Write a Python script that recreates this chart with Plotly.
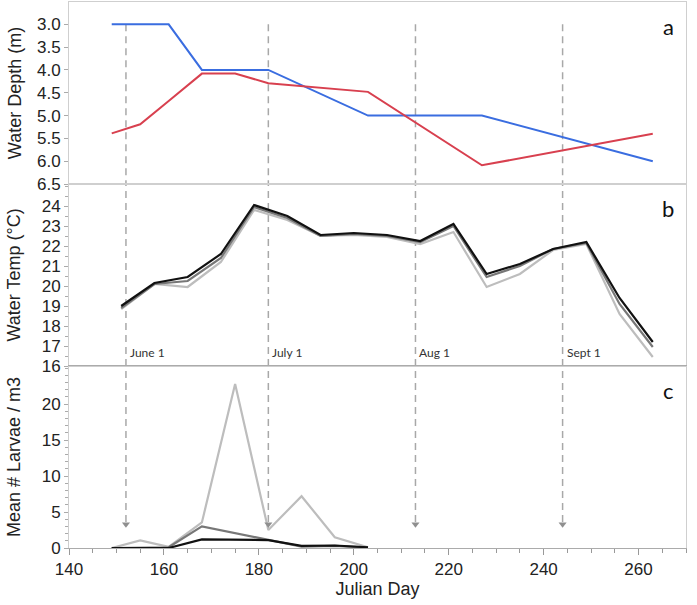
import plotly.graph_objects as go
from plotly.subplots import make_subplots

# ---- data ----
depth_blue_day = [149, 161, 168, 182, 203, 227, 263]
depth_blue = [3.0, 3.0, 4.0, 4.0, 5.0, 5.0, 6.0]
depth_red_day = [149, 155, 161, 168, 175, 182, 203, 227, 263]
depth_red = [5.39, 5.19, 4.68, 4.08, 4.08, 4.29, 4.48, 6.09, 5.40]

temp_day = [151, 158, 165, 172, 179, 186, 193, 200, 207, 214, 221, 228, 235, 242, 249, 256, 263]
temp_black = [19.0, 20.15, 20.45, 21.6, 24.05, 23.5, 22.55, 22.65, 22.55, 22.25, 23.1, 20.6, 21.1, 21.85, 22.2, 19.4, 17.2]
temp_mid = [18.9, 20.1, 20.25, 21.4, 23.95, 23.4, 22.5, 22.6, 22.5, 22.2, 23.0, 20.45, 21.0, 21.85, 22.15, 19.1, 16.95]
temp_light = [18.85, 20.1, 19.95, 21.2, 23.8, 23.3, 22.5, 22.55, 22.45, 22.1, 22.7, 19.95, 20.6, 21.8, 22.1, 18.6, 16.45]

larvae_day = [149, 155, 161, 168, 175, 182, 189, 196, 203]
larvae_light = [0, 1.05, 0.15, 3.55, 22.8, 2.5, 7.2, 1.5, 0.1]
larvae_mid = [0, 0, 0.1, 3.0, 2.1, 1.2, 0.2, 0.3, 0.05]
larvae_black = [0, 0, 0, 1.2, 1.2, 1.1, 0.3, 0.35, 0.1]

month_day = [152, 182, 213, 244]
month_labels = ["June 1", "July 1", "Aug 1", "Sept 1"]
panel_letters = ["a", "b", "c"]

depth_ticks = [3.0, 3.5, 4.0, 4.5, 5.0, 5.5, 6.0, 6.5]
temp_ticks = [16, 17, 18, 19, 20, 21, 22, 23, 24]
larvae_ticks = [0, 5, 10, 15, 20]

# ---- figure ----
fig = make_subplots(rows=3, cols=1, shared_xaxes=True, vertical_spacing=0)

BLUE = "#3a6de0"
RED = "#d8404f"
LIGHT = "#bdbdbd"
MID = "#777777"
BLACK = "#111111"

fig.add_trace(go.Scatter(x=depth_blue_day, y=depth_blue, mode="lines",
                         line=dict(color=BLUE, width=2)), row=1, col=1)
fig.add_trace(go.Scatter(x=depth_red_day, y=depth_red, mode="lines",
                         line=dict(color=RED, width=2)), row=1, col=1)

for ys, c in [(temp_light, LIGHT), (temp_mid, MID), (temp_black, BLACK)]:
    fig.add_trace(go.Scatter(x=temp_day, y=ys, mode="lines",
                             line=dict(color=c, width=2.2)), row=2, col=1)

for ys, c in [(larvae_light, LIGHT), (larvae_mid, MID), (larvae_black, BLACK)]:
    fig.add_trace(go.Scatter(x=larvae_day, y=ys, mode="lines",
                             line=dict(color=c, width=2.2)), row=3, col=1)

# dashed month lines through all panels
DASH = dict(color="#a8a8a8", width=1.5, dash="7px,5px")
for d in month_day:
    fig.add_shape(type="line", xref="x", yref="y", x0=d, x1=d, y0=3.0, y1=6.5, line=DASH, layer="below")
    fig.add_shape(type="line", xref="x2", yref="y2 domain", x0=d, x1=d, y0=0, y1=1, line=DASH, layer="below")
    fig.add_shape(type="line", xref="x3", yref="y3", x0=d, x1=d, y0=3.6, y1=25.3, line=DASH, layer="below")

fig.add_trace(go.Scatter(x=month_day, y=[3.3] * len(month_day), mode="markers",
                         marker=dict(symbol="triangle-down", size=7, color="#8f8f8f"),
                         hoverinfo="skip"), row=3, col=1)

for d, lab in zip(month_day, month_labels):
    fig.add_annotation(x=d, y=16.7, xref="x2", yref="y2", text=lab, showarrow=False,
                       xanchor="left", yanchor="middle", xshift=2,
                       font=dict(family="Lato", size=12, color="#333333"))

for i, letter in enumerate(panel_letters):
    xr = "x domain" if i == 0 else f"x{i+1} domain"
    yr = "y domain" if i == 0 else f"y{i+1} domain"
    fig.add_annotation(x=0.971, y=0.865, xref=xr, yref=yr, text=letter, showarrow=False,
                       xanchor="center", yanchor="middle",
                       font=dict(family="Lato", size=22, color="#111111"))

FRAME = "#cfcfcf"
TICKFONT = dict(family="Liberation Sans", size=17, color="#222222")
TITLEFONT = dict(family="Liberation Sans", size=18, color="#222222")

for r in (1, 2, 3):
    fig.update_xaxes(row=r, col=1, range=[140, 270], showline=True, mirror=True,
                     linecolor=FRAME, linewidth=1, showgrid=False, zeroline=False,
                     ticks="outside" if r == 3 else "", tick0=140, dtick=20,
                     ticklen=6, tickcolor="#999999", tickfont=TICKFONT,
                     showticklabels=(r == 3))
fig.update_xaxes(row=3, col=1, linecolor="#ababab",
                 minor=dict(dtick=5, ticklen=4, ticks="outside", tickcolor="#999999"),
                 title=dict(text="Julian Day", font=TITLEFONT, standoff=2))

fig.update_yaxes(row=1, col=1, range=[6.5, 2.51], tickvals=depth_ticks,
                 tickformat=".1f",
                 title=dict(text="Water Depth (m)", font=TITLEFONT, standoff=10))
fig.update_yaxes(row=2, col=1, range=[16, 25.1], tickvals=temp_ticks,
                 minor=dict(dtick=0.5, ticklen=3, ticks="outside", tickcolor="#aaaaaa"),
                 title=dict(text="Water Temp (°C)", font=TITLEFONT, standoff=16))
fig.update_yaxes(row=3, col=1, range=[0, 25.3], tickvals=larvae_ticks,
                 minor=dict(dtick=1, ticklen=3, ticks="outside", tickcolor="#aaaaaa"),
                 title=dict(text="Mean # Larvae / m3", font=TITLEFONT, standoff=16))
for r in (1, 2, 3):
    fig.update_yaxes(row=r, col=1, showline=True, mirror=True, linecolor=FRAME, linewidth=1,
                     showgrid=False, zeroline=False, ticks="outside", ticklen=4,
                     tickcolor="#aaaaaa", tickfont=TICKFONT)

fig.update_layout(
    width=697, height=605,
    margin=dict(l=69, r=11, t=2, b=57, autoexpand=False),
    paper_bgcolor="white", plot_bgcolor="white",
    showlegend=False,
)

fig.write_html("out.html")
